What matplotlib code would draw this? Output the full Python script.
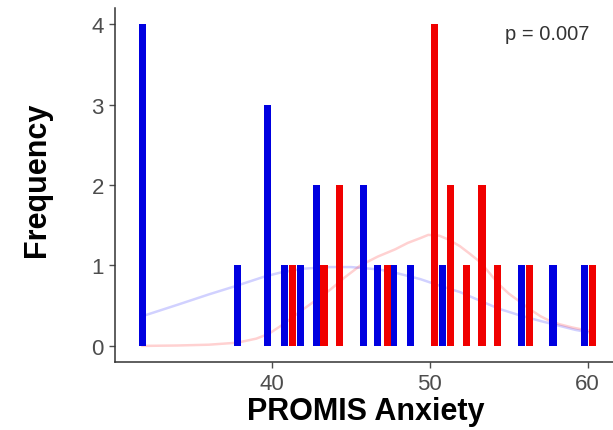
import matplotlib.pyplot as plt

plt.rcParams['font.family'] = ['Liberation Sans', 'DejaVu Sans']

# bar positions / counts for each group
blue_x = [31.8, 37.8, 39.7, 40.8, 41.8, 42.8, 45.8, 46.7, 47.7, 48.8, 50.8, 55.8, 57.8, 59.8]
blue_n = [4, 1, 3, 1, 1, 2, 2, 1, 1, 1, 1, 1, 1, 1]
red_x = [41.3, 43.3, 44.3, 47.3, 50.3, 51.3, 52.3, 53.3, 54.3, 56.3, 60.3]
red_n = [1, 1, 2, 1, 4, 2, 1, 2, 1, 1, 1]

# smoothed density curves (count scale)
blue_cx = [31.8, 34.0, 36.0, 37.8, 39.5, 40.5, 42.0, 43.7, 45.0, 46.8, 48.0, 49.4, 50.6, 51.9, 53.2, 54.4, 55.7, 57.0, 58.2, 59.2, 60.0]
blue_cy = [0.37, 0.51, 0.64, 0.75, 0.86, 0.91, 0.96, 0.98, 0.98, 0.95, 0.90, 0.83, 0.75, 0.67, 0.56, 0.46, 0.38, 0.31, 0.25, 0.20, 0.17]
red_cx = [31.8, 34.0, 36.0, 37.8, 39.0, 39.8, 40.8, 41.8, 42.8, 43.7, 44.6, 45.6, 46.7, 47.8, 48.6, 49.4, 49.9, 50.6, 51.2, 51.9, 52.5, 53.2, 53.8, 54.4, 55.0, 55.7, 56.3, 57.0, 57.6, 58.2, 59.0, 60.0, 60.3]
red_cy = [0.00, 0.005, 0.015, 0.04, 0.09, 0.15, 0.28, 0.43, 0.57, 0.70, 0.85, 1.00, 1.11, 1.20, 1.28, 1.34, 1.38, 1.37, 1.32, 1.24, 1.15, 1.04, 0.90, 0.76, 0.65, 0.55, 0.46, 0.37, 0.31, 0.27, 0.23, 0.19, 0.18]

fig = plt.figure(figsize=(6.13, 4.31), dpi=100)
ax = fig.add_axes([115/613, 1-363/431, 1-115/613, (363-9)/431])

ax.plot(blue_cx, blue_cy, color='#0000ff', alpha=0.18, lw=1.8, zorder=1)
ax.plot(red_cx, red_cy, color='#ff0000', alpha=0.18, lw=1.8, zorder=1)
ax.bar(blue_x, blue_n, width=0.45, color='#0000e0', zorder=2)
ax.bar(red_x, red_n, width=0.45, color='#f00000', zorder=2)

ax.set_xlim(30.06, 61.6)
ax.set_ylim(-0.2, 4.2)
ax.set_xticks([40, 50, 60])
ax.set_yticks([0, 1, 2, 3, 4])
ax.tick_params(labelsize=16, colors='#4d4d4d', length=4, width=1, pad=4)
for s in ['top', 'right']:
    ax.spines[s].set_visible(False)
for s in ['left', 'bottom']:
    ax.spines[s].set_color('#333333')
    ax.spines[s].set_linewidth(1.1)

ax.text(57.44, 3.88, 'p = 0.007', fontsize=14.5, color='#333333', ha='center', va='center')

fig.text(366/613, 1-412/431, 'PROMIS Anxiety', fontsize=22, fontweight='bold', ha='center', va='center')
fig.text(37/613, 1-180/431, 'Frequency', fontsize=22, fontweight='bold', ha='center', va='center', rotation=90)

fig.savefig('out.png', dpi=100)
